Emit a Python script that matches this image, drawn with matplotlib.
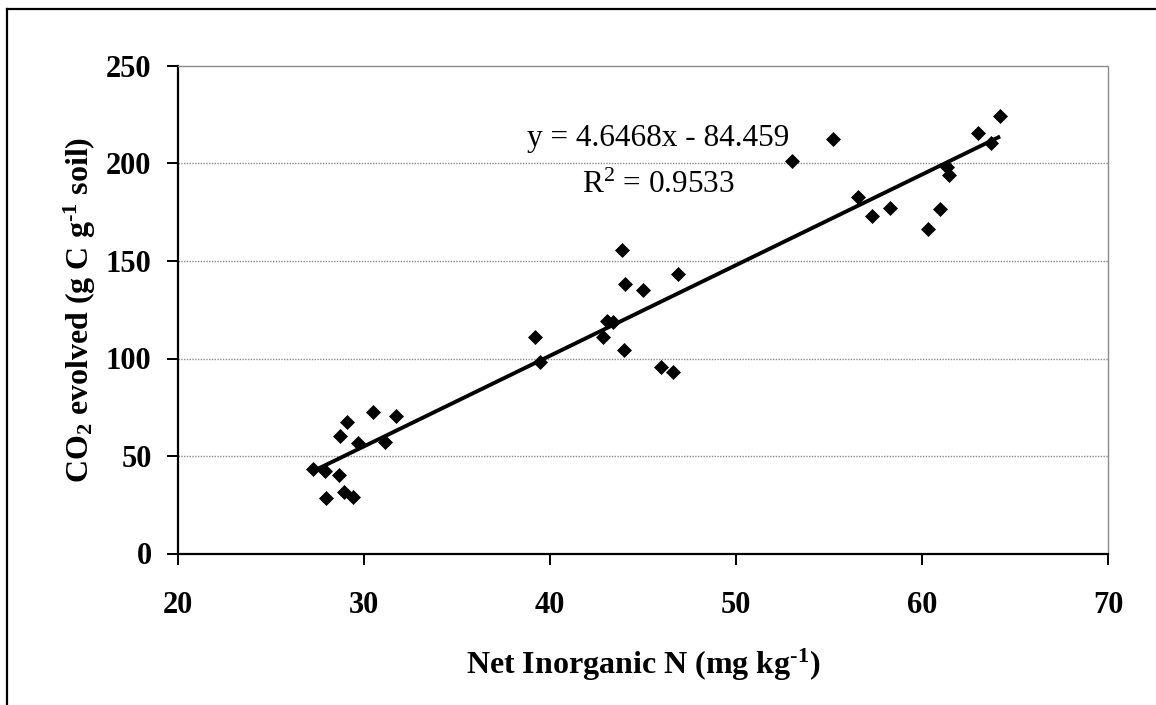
import matplotlib
matplotlib.use('Agg')
import matplotlib.pyplot as plt
import numpy as np
from matplotlib.lines import Line2D

# ---- data ----
net_n = [27.28, 27.91, 28.68, 27.97, 28.90, 29.40, 28.72, 29.08, 29.70, 30.46, 31.14, 31.73,
         39.21, 39.45, 42.86, 43.07, 43.38, 43.97, 43.85, 44.02, 45.01, 46.90, 45.97, 46.60,
         53.03, 55.23, 56.58, 57.31, 58.28,
         64.20, 63.03, 63.70, 61.46, 61.34, 60.98, 60.34]
co2 = [43.3, 42.5, 40.3, 28.6, 31.7, 29.1, 60.3, 67.6, 56.8, 72.7, 57.3, 70.5,
       111.2, 98.4, 110.9, 119.3, 118.9, 104.5, 155.6, 138.1, 135.3, 143.2, 95.4, 92.9,
       201.1, 212.5, 182.8, 173.3, 177.4,
       224.4, 215.5, 210.4, 194.1, 198.4, 176.6, 166.4]
slope = 4.6468
intercept = -84.459
r_squared = 0.9533
x_ticks = [20, 30, 40, 50, 60, 70]
y_ticks = [0, 50, 100, 150, 200, 250]

plt.rcParams['font.family'] = ['Liberation Serif', 'DejaVu Serif']
plt.rcParams['mathtext.fontset'] = 'custom'
plt.rcParams['mathtext.rm'] = 'Liberation Serif'
plt.rcParams['mathtext.it'] = 'Liberation Serif:italic'
plt.rcParams['mathtext.bf'] = 'Liberation Serif:bold'

W, H = 1156, 705
fig = plt.figure(figsize=(W / 100, H / 100), dpi=100)
left, right, top, bottom = 178, 1108, 66, 553.5
ax = fig.add_axes([left / W, 1 - bottom / H, (right - left) / W, (bottom - top) / H])

ax.set_xlim(20, 70)
ax.set_ylim(0, 250)
ax.set_xticks(x_ticks)
ax.set_yticks(y_ticks)

# gridlines
for yv in y_ticks[1:-1]:
    ax.axhline(yv, color='#8a8a8a', lw=1.0, ls=(0, (1, 1)), zorder=0)

# spines
ax.spines['left'].set_color('black')
ax.spines['left'].set_linewidth(1.6)
ax.spines['bottom'].set_color('black')
ax.spines['bottom'].set_linewidth(1.6)
for s in ['top', 'right']:
    ax.spines[s].set_color('#8a8a8a')
    ax.spines[s].set_linewidth(1.0)
    ax.spines[s].set_linestyle((0, (1, 1)))

# data
ax.plot(net_n, co2, linestyle='none', marker='D', markersize=7.2,
        color='black', markeredgewidth=0.5, zorder=3)
xf = np.array([min(net_n), max(net_n)])
ax.plot(xf, slope * xf + intercept, color='black', lw=2.8, zorder=2,
        solid_capstyle='butt')

ax.tick_params(axis='both', direction='out', length=8, width=1.4, color='black')
ax.tick_params(axis='y', pad=11, labelsize=22)
ax.tick_params(axis='x', pad=19, labelsize=22)
for lab in ax.get_xticklabels() + ax.get_yticklabels():
    lab.set_fontweight('bold')

hy = '\u2010'
ax.set_xlabel('Net Inorganic N (mg kg$^{\\mathbf{' + hy + '1}}$)', fontsize=23, fontweight='bold')
ax.set_ylabel('CO$_{\\mathbf{2}}$ evolved (g C g$^{\\mathbf{' + hy + '1}}$ soil)',
              fontsize=23, fontweight='bold')
ax.xaxis.label.set_va('center')
ax.yaxis.label.set_va('center')
ax.xaxis.set_label_coords(0.5, (bottom - 665) / (bottom - top))
ax.yaxis.set_label_coords((80 - left) / (right - left), 0.5)

# equation text
ax.text(45.83, 212.8, f'y = {slope}x - {abs(intercept)}', fontsize=22.5,
        ha='center', va='center')
ax.text(45.83, 189.0, 'R$^{2}$' + f' = {r_squared}', fontsize=22.5,
        ha='center', va='center')

# outer frame (only left and top visible)
fig.add_artist(Line2D([7 / W, 7 / W], [0, 1 - 9 / H], color='black', lw=1.6,
                      transform=fig.transFigure))
fig.add_artist(Line2D([7 / W, 1], [1 - 9 / H, 1 - 9 / H], color='black', lw=1.6,
                      transform=fig.transFigure))

fig.savefig('out.png', dpi=100)
